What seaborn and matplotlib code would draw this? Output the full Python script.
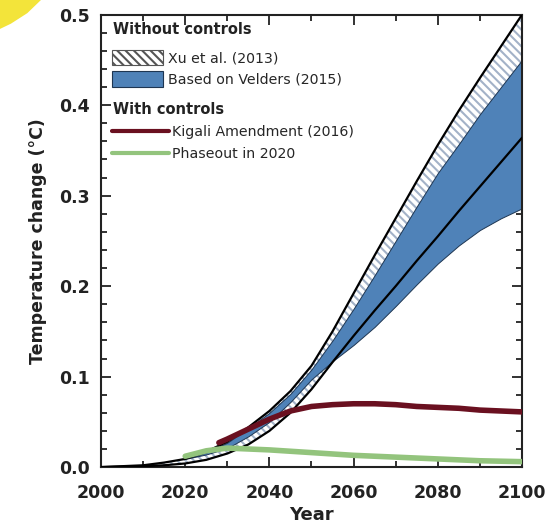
import matplotlib
matplotlib.use("Agg")
import matplotlib.pyplot as plt
import matplotlib.patches as mpatches
from matplotlib.lines import Line2D
from matplotlib.ticker import MultipleLocator
import pandas as pd
import seaborn as sns

years = [2000, 2005, 2010, 2015, 2020, 2025, 2030, 2035, 2040, 2045, 2050,
         2055, 2060, 2065, 2070, 2075, 2080, 2085, 2090, 2095, 2100]

# Xu et al. (2013) range
xu_upper = [0.0, 0.001, 0.002, 0.005, 0.009, 0.017, 0.028, 0.044, 0.062, 0.084, 0.112,
            0.15, 0.192, 0.234, 0.275, 0.316, 0.356, 0.394, 0.43, 0.465, 0.5]
xu_lower = [0.0, 0.0005, 0.001, 0.002, 0.004, 0.008, 0.015, 0.025, 0.04, 0.06, 0.086,
            0.116, 0.145, 0.173, 0.2, 0.228, 0.255, 0.283, 0.31, 0.337, 0.364]

# Velders (2015) based range
velders_years = [2020, 2025, 2030, 2035, 2040, 2045, 2050, 2055, 2060, 2065,
                 2070, 2075, 2080, 2085, 2090, 2095, 2100]
velders_upper = [0.009, 0.016, 0.027, 0.043, 0.06, 0.081, 0.108, 0.14, 0.175, 0.212,
                 0.25, 0.288, 0.325, 0.357, 0.39, 0.42, 0.45]
velders_lower = [0.009, 0.014, 0.021, 0.034, 0.05, 0.072, 0.097, 0.117, 0.135, 0.155,
                 0.178, 0.202, 0.225, 0.245, 0.262, 0.275, 0.286]

# With controls
kigali_years = [2028, 2030, 2035, 2040, 2045, 2050, 2055, 2060, 2065, 2070,
                2075, 2080, 2085, 2090, 2095, 2100]
kigali = [0.027, 0.031, 0.042, 0.053, 0.062, 0.067, 0.069, 0.07, 0.07, 0.069,
          0.067, 0.066, 0.065, 0.063, 0.062, 0.061]
phaseout_years = [2020, 2025, 2030, 2035, 2040, 2045, 2050, 2055, 2060, 2065,
                  2070, 2075, 2080, 2085, 2090, 2095, 2100]
phaseout = [0.012, 0.018, 0.021, 0.02, 0.019, 0.0175, 0.016, 0.0145, 0.013, 0.012,
            0.011, 0.01, 0.009, 0.008, 0.007, 0.0065, 0.006]

x_ticks = [2000, 2020, 2040, 2060, 2080, 2100]
y_ticks = [0.0, 0.1, 0.2, 0.3, 0.4, 0.5]

blue = "#4f82b8"
hatch_color = "#a3b2c8"
maroon = "#6a1020"
green = "#93c47d"
ink = "#222222"

sns.set_theme(style="ticks")
plt.rcParams["font.family"] = ["DejaVu Sans"]
plt.rcParams["hatch.color"] = hatch_color
plt.rcParams["hatch.linewidth"] = 1.5

fig = plt.figure(figsize=(5.46, 5.26), dpi=100)
ax = fig.add_axes([0.185, 0.112, 0.771, 0.86])

# hatched Xu band first, blue band over it
ax.fill_between(years, xu_lower, xu_upper, facecolor="white", edgecolor=hatch_color,
                hatch="\\\\\\\\", linewidth=0, zorder=1)
ax.fill_between(velders_years, velders_lower, velders_upper, facecolor=blue,
                edgecolor="#1e3652", linewidth=0.7, zorder=2)

xu_df = pd.DataFrame({"year": years, "upper": xu_upper, "lower": xu_lower})
sns.lineplot(data=xu_df, x="year", y="upper", color="black", linewidth=1.6, ax=ax, zorder=4)
sns.lineplot(data=xu_df, x="year", y="lower", color="black", linewidth=1.6, ax=ax, zorder=4)

sns.lineplot(x=kigali_years, y=kigali, color=maroon, linewidth=4, ax=ax, zorder=5)
sns.lineplot(x=phaseout_years, y=phaseout, color=green, linewidth=4, ax=ax, zorder=5)

ax.set_xlim(2000, 2100)
ax.set_ylim(0, 0.5)
ax.set_xticks(x_ticks)
ax.set_yticks(y_ticks)
ax.set_yticklabels([f"{v:.1f}" for v in y_ticks])
ax.xaxis.set_minor_locator(MultipleLocator(10))
ax.yaxis.set_minor_locator(MultipleLocator(0.02))
ax.tick_params(which="both", direction="in", top=True, right=True, width=1.3, color=ink)
ax.tick_params(which="major", length=7, labelsize=12.5)
ax.tick_params(axis="x", which="major", pad=12)
ax.tick_params(axis="y", which="major", pad=8)
ax.tick_params(which="minor", length=4)
for lab in ax.get_xticklabels() + ax.get_yticklabels():
    lab.set_fontweight("bold")
    lab.set_color(ink)
for sp in ax.spines.values():
    sp.set_linewidth(1.5)
    sp.set_color(ink)

ax.set_xlabel("Year", fontsize=13, fontweight="bold", color=ink, labelpad=3)
ax.set_ylabel("Temperature change (°C)", fontsize=12.5, fontweight="bold",
              color=ink, labelpad=9)

# legend group headers
ax.text(0.029, 0.967, "Without controls", transform=ax.transAxes, fontsize=10.5,
        fontweight="bold", color=ink, va="center", ha="left")
ax.text(0.029, 0.79, "With controls", transform=ax.transAxes, fontsize=10.5,
        fontweight="bold", color=ink, va="center", ha="left")

h_xu = mpatches.Patch(facecolor="white", edgecolor="#555555", hatch="\\\\\\\\", linewidth=0.8)
h_vel = mpatches.Patch(facecolor=blue, edgecolor="#1e3652", linewidth=0.8)
leg1 = ax.legend([h_xu, h_vel], ["Xu et al. (2013)", "Based on Velders (2015)"],
                 loc="upper left", bbox_to_anchor=(0.026, 0.922), borderaxespad=0,
                 borderpad=0, frameon=False, fontsize=10.2, handlelength=3.6,
                 handleheight=1.3, handletextpad=0.35, labelspacing=0.4)
ax.add_artist(leg1)
h_kig = Line2D([], [], color=maroon, linewidth=3)
h_pho = Line2D([], [], color=green, linewidth=3)
ax.legend([h_kig, h_pho], ["Kigali Amendment (2016)", "Phaseout in 2020"],
          loc="upper left", bbox_to_anchor=(0.026, 0.757), borderaxespad=0,
          borderpad=0, frameon=False, fontsize=10.2, handlelength=4.0,
          handletextpad=0.25, labelspacing=0.58)

# yellow highlight in the corner
fig.patches.append(mpatches.Polygon([[0, 1], [0.075, 1], [0.05, 0.975], [0.02, 0.955], [0, 0.945]],
                                    closed=True, transform=fig.transFigure,
                                    facecolor="#f3e43a", edgecolor="none"))

fig.savefig("out.png", dpi=100)
